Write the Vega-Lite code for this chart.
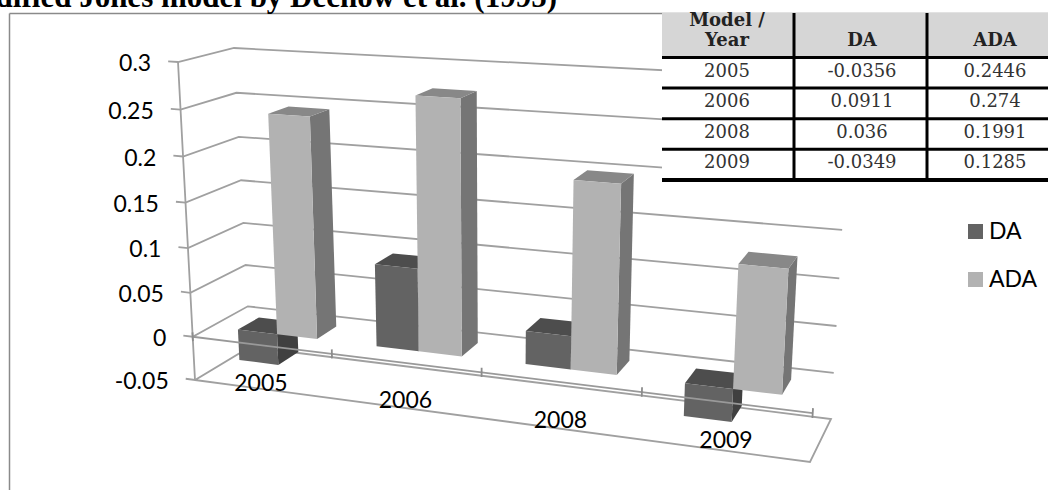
{
  "$schema": "https://vega.github.io/schema/vega-lite/v6.json",
  "width": 1039,
  "height": 477,
  "autosize": "none",
  "padding": {"left": 9, "top": 13, "right": 0, "bottom": 0},
  "background": "white",
  "config": {"view": {"stroke": null}},
  "datasets": {
    "bars": [
      {"year": "2005", "series": "DA", "value": -0.0356},
      {"year": "2005", "series": "ADA", "value": 0.2446},
      {"year": "2006", "series": "DA", "value": 0.0911},
      {"year": "2006", "series": "ADA", "value": 0.274},
      {"year": "2008", "series": "DA", "value": 0.036},
      {"year": "2008", "series": "ADA", "value": 0.1991},
      {"year": "2009", "series": "DA", "value": -0.0349},
      {"year": "2009", "series": "ADA", "value": 0.1285}
    ],
    "ticks": [
      {"tick": -0.05}, {"tick": 0}, {"tick": 0.05}, {"tick": 0.1},
      {"tick": 0.15}, {"tick": 0.2}, {"tick": 0.25}, {"tick": 0.3}
    ],
    "years": [
      {"year": "2005", "cat": 0},
      {"year": "2006", "cat": 1},
      {"year": "2008", "cat": 2},
      {"year": "2009", "cat": 3}
    ],
    "heading": [{"label": "Modified Jones model by Dechow et al. (1995)"}],
    "tableHead": [
      {"label": "Model /", "col": 0, "line": 0},
      {"label": "Year", "col": 0, "line": 1},
      {"label": "DA", "col": 1, "line": 1},
      {"label": "ADA", "col": 2, "line": 1}
    ],
    "tableBands": [{"band": "head"}, {"band": "body"}],
    "tableRows": [{"edge": 0}, {"edge": 1}, {"edge": 2}, {"edge": 3}, {"edge": 4}],
    "tableCols": [{"col": 1}, {"col": 2}]
  },
  "encoding": {
    "x": {
      "field": "sx",
      "type": "quantitative",
      "scale": {"domain": [9, 1048], "nice": false, "zero": false},
      "axis": {"orient": "top", "title": null, "labels": false, "ticks": false, "grid": false, "domainColor": "#8a8a8a", "domainWidth": 1.5}
    },
    "y": {
      "field": "sy",
      "type": "quantitative",
      "scale": {"domain": [13, 490], "nice": false, "zero": false, "reverse": true},
      "axis": {"orient": "left", "title": null, "labels": false, "ticks": false, "grid": false, "domainColor": "#8a8a8a", "domainWidth": 1.5}
    }
  },
  "layer": [
    {
      "description": "Heading above the chart frame",
      "data": {"name": "heading"},
      "transform": [
        {"calculate": "557", "as": "sx"},
        {"calculate": "7", "as": "sy"}
      ],
      "mark": {"type": "text", "align": "right", "baseline": "alphabetic", "font": "Liberation Serif", "fontWeight": "bold", "fontSize": 31, "color": "black"},
      "encoding": {"text": {"field": "label"}}
    },
    {
      "description": "Walls and floor of the 3D box: gridlines, value axis and its labels",
      "data": {"name": "ticks"},
      "transform": [
        {"calculate": "[0,1,2,3,4,5]", "as": "seq"},
        {"flatten": ["seq"]},
        {"calculate": "datum.seq==0 ? -0.07 : (datum.seq==3 || datum.seq==4 ? 4 : 0)", "as": "u"},
        {"calculate": "datum.seq==2 || datum.seq==3 ? 1 : 0", "as": "d"},
        {"calculate": "datum.tick", "as": "v"},
        {"calculate": "''+datum.tick", "as": "label"},
        {"calculate": "datum.u/4-0.136*(datum.u/4)*(1-datum.u/4)", "as": "pu"},
        {"calculate": "(datum.v+0.05)/0.35", "as": "nv"},
        {"calculate": "datum.nv-0.056*datum.nv*(1-datum.nv)", "as": "pv"},
        {"calculate": "(1-datum.pu)*(195+55*datum.d)+datum.pu*(810+21*datum.d)", "as": "xb"},
        {"calculate": "(1-datum.pu)*(178+56*datum.d)+datum.pu*(830+21*datum.d)", "as": "xt"},
        {"calculate": "(1-datum.pu)*(380-33*datum.d)+datum.pu*(462-43*datum.d)", "as": "yb"},
        {"calculate": "(1-datum.pu)*(62-14*datum.d)+datum.pu*(102-22*datum.d)", "as": "yt"},
        {"calculate": "datum.xb+datum.pv*(datum.xt-datum.xb)", "as": "sx"},
        {"calculate": "datum.yb+datum.pv*(datum.yt-datum.yb)", "as": "sy"}
      ],
      "layer": [
        {
          "transform": [{"filter": "datum.seq<=3 || datum.tick==-0.05"}],
          "mark": {"type": "line", "color": "#a0a0a0", "strokeWidth": 1.8, "clip": false},
          "encoding": {
            "detail": {"field": "tick"},
            "order": {"field": "seq"}
          }
        },
        {
          "transform": [{"filter": "datum.seq==1"}],
          "mark": {"type": "line", "color": "#a0a0a0", "strokeWidth": 1.8},
          "encoding": {"order": {"field": "tick"}}
        },
        {
          "transform": [{"filter": "datum.seq==0"}],
          "mark": {"type": "text", "align": "right", "baseline": "middle", "dx": -17, "dy": 3, "font": "Lato", "fontSize": 23, "color": "black"},
          "encoding": {"text": {"field": "label"}}
        }
      ]
    },
    {
      "description": "Bars as three shaded faces each, drawn back to front",
      "data": {"name": "bars"},
      "transform": [
        {"calculate": "indexof(['2005','2006','2008','2009'],datum.year)+(datum.series=='DA'?0.2:0.49)", "as": "u0"},
        {"calculate": "datum.u0+0.29", "as": "u1"},
        {"calculate": "min(0,datum.value)", "as": "vlo"},
        {"calculate": "max(0,datum.value)", "as": "vhi"},
        {"calculate": "['side','top','front']", "as": "face"},
        {"flatten": ["face"]},
        {"calculate": "[0,1,2,3]", "as": "corner"},
        {"flatten": ["corner"]},
        {"calculate": "datum.series+'-'+datum.face", "as": "shade"},
        {"calculate": "datum.face=='side' || datum.corner==1 || datum.corner==2 ? datum.u1 : datum.u0", "as": "u"},
        {"calculate": "datum.face=='front' ? 0.34 : datum.face=='side' ? (datum.corner==1||datum.corner==2 ? 0.73 : 0.34) : (datum.corner>=2 ? 0.73 : 0.34)", "as": "d"},
        {"calculate": "datum.face=='top' || datum.corner>=2 ? datum.vhi : datum.vlo", "as": "v"},
        {"calculate": "datum.u/4-0.136*(datum.u/4)*(1-datum.u/4)", "as": "pu"},
        {"calculate": "(datum.v+0.05)/0.35", "as": "nv"},
        {"calculate": "datum.nv-0.056*datum.nv*(1-datum.nv)", "as": "pv"},
        {"calculate": "(1-datum.pu)*(195+55*datum.d)+datum.pu*(810+21*datum.d)", "as": "xb"},
        {"calculate": "(1-datum.pu)*(178+56*datum.d)+datum.pu*(830+21*datum.d)", "as": "xt"},
        {"calculate": "(1-datum.pu)*(380-33*datum.d)+datum.pu*(462-43*datum.d)", "as": "yb"},
        {"calculate": "(1-datum.pu)*(62-14*datum.d)+datum.pu*(102-22*datum.d)", "as": "yt"},
        {"calculate": "datum.xb+datum.pv*(datum.xt-datum.xb)", "as": "sx"},
        {"calculate": "datum.yb+datum.pv*(datum.yt-datum.yb)", "as": "sy"}
      ],
      "mark": {"type": "line", "filled": true, "strokeWidth": 0},
      "encoding": {
        "fill": {
          "field": "shade",
          "type": "nominal",
          "legend": null,
          "scale": {
            "domain": ["DA-front", "DA-side", "DA-top", "ADA-front", "ADA-side", "ADA-top", "head", "body"],
            "range": ["#636363", "#404040", "#4d4d4d", "#b2b2b2", "#757575", "#888888", "#d6d6d6", "#ffffff"]
          }
        },
        "detail": {"field": "year"},
        "order": {"field": "corner"}
      }
    },
    {
      "description": "Category axis on the zero plane with ticks and year labels",
      "data": {"name": "years"},
      "transform": [
        {"calculate": "[0,1,2,3,4,5,6]", "as": "seq"},
        {"flatten": ["seq"]},
        {"calculate": "datum.seq==4 ? datum.cat+0.5 : (datum.seq==2||datum.seq==3||datum.seq==6 ? datum.cat+1 : datum.cat)", "as": "u"},
        {"calculate": "0", "as": "d"},
        {"calculate": "datum.seq==0||datum.seq==2 ? 0.005 : (datum.seq==1||datum.seq==3 ? -0.005 : 0)", "as": "v"},
        {"calculate": "datum.u/4-0.136*(datum.u/4)*(1-datum.u/4)", "as": "pu"},
        {"calculate": "(datum.v+0.05)/0.35", "as": "nv"},
        {"calculate": "datum.nv-0.056*datum.nv*(1-datum.nv)", "as": "pv"},
        {"calculate": "(1-datum.pu)*(195+55*datum.d)+datum.pu*(810+21*datum.d)", "as": "xb"},
        {"calculate": "(1-datum.pu)*(178+56*datum.d)+datum.pu*(830+21*datum.d)", "as": "xt"},
        {"calculate": "(1-datum.pu)*(380-33*datum.d)+datum.pu*(462-43*datum.d)", "as": "yb"},
        {"calculate": "(1-datum.pu)*(62-14*datum.d)+datum.pu*(102-22*datum.d)", "as": "yt"},
        {"calculate": "datum.xb+datum.pv*(datum.xt-datum.xb)", "as": "sx"},
        {"calculate": "datum.yb+datum.pv*(datum.yt-datum.yb)", "as": "sy"},
        {"calculate": "datum.seq<2 ? datum.cat : datum.cat+1", "as": "tickAt"}
      ],
      "layer": [
        {
          "transform": [{"filter": "datum.seq>=5"}],
          "mark": {"type": "line", "color": "#999999", "strokeWidth": 1.8},
          "encoding": {"detail": {"field": "year"}, "order": {"field": "seq"}}
        },
        {
          "transform": [{"filter": "datum.seq<4"}],
          "mark": {"type": "line", "color": "#8c8c8c", "strokeWidth": 1.8},
          "encoding": {"detail": {"field": "tickAt"}, "order": {"field": "seq"}}
        },
        {
          "transform": [{"filter": "datum.seq==4"}],
          "mark": {"type": "text", "align": "center", "baseline": "middle", "dy": 38.5, "font": "Lato", "fontSize": 23, "color": "black"},
          "encoding": {"text": {"field": "year"}}
        }
      ]
    },
    {
      "description": "Series legend; the points themselves stay invisible",
      "data": {"name": "bars"},
      "transform": [
        {"calculate": "500", "as": "sx"},
        {"calculate": "250", "as": "sy"}
      ],
      "mark": {"type": "square", "size": 0, "filled": true},
      "encoding": {
        "color": {
          "field": "series",
          "type": "nominal",
          "scale": {"domain": ["DA", "ADA"], "range": ["#636363", "#b2b2b2"]},
          "legend": {
            "title": null,
            "orient": "none",
            "legendX": 955,
            "legendY": 207,
            "symbolType": "square",
            "symbolSize": 225,
            "symbolStrokeWidth": 0,
            "symbolOpacity": 1,
            "labelFont": "Lato",
            "labelFontSize": 23,
            "labelColor": "black",
            "rowPadding": 24,
            "labelOffset": 2
          }
        }
      }
    },
    {
      "description": "Table background",
      "data": {"name": "tableBands"},
      "transform": [
        {"calculate": "662", "as": "sx"},
        {"calculate": "1048", "as": "sx2"},
        {"calculate": "datum.band=='head' ? 13 : 57", "as": "sy"},
        {"calculate": "datum.band=='head' ? 57 : 180", "as": "sy2"}
      ],
      "mark": {"type": "rect"},
      "encoding": {
        "x2": {"field": "sx2"},
        "y2": {"field": "sy2"},
        "fill": {"field": "band", "type": "nominal", "legend": null}
      }
    },
    {
      "description": "Table row lines",
      "data": {"name": "tableRows"},
      "transform": [
        {"calculate": "662", "as": "sx"},
        {"calculate": "1048", "as": "sx2"},
        {"calculate": "57.5+30.6*datum.edge", "as": "sy"}
      ],
      "mark": {"type": "rule", "color": "black"},
      "encoding": {
        "x2": {"field": "sx2"},
        "strokeWidth": {"condition": {"test": "datum.edge==4", "value": 4}, "value": 3}
      }
    },
    {
      "description": "Table column lines",
      "data": {"name": "tableCols"},
      "transform": [
        {"calculate": "794+133*(datum.col-1)", "as": "sx"},
        {"calculate": "13", "as": "sy"},
        {"calculate": "180", "as": "sy2"}
      ],
      "mark": {"type": "rule", "color": "black", "strokeWidth": 3},
      "encoding": {"y2": {"field": "sy2"}}
    },
    {
      "description": "Table header",
      "data": {"name": "tableHead"},
      "transform": [
        {"calculate": "[727,862,995][datum.col]", "as": "sx"},
        {"calculate": "21+20*datum.line", "as": "sy"}
      ],
      "mark": {"type": "text", "font": "DejaVu Serif", "fontWeight": "bold", "fontSize": 18, "baseline": "middle", "color": "#222222"},
      "encoding": {"text": {"field": "label"}}
    },
    {
      "description": "Table year column",
      "data": {"name": "years"},
      "transform": [
        {"calculate": "727", "as": "sx"},
        {"calculate": "72+30.4*datum.cat", "as": "sy"}
      ],
      "mark": {"type": "text", "font": "DejaVu Serif", "fontSize": 18, "baseline": "middle", "color": "#333333"},
      "encoding": {"text": {"field": "year"}}
    },
    {
      "description": "Table values, from the same rows as the bars",
      "data": {"name": "bars"},
      "transform": [
        {"calculate": "datum.series=='DA' ? 862 : 995", "as": "sx"},
        {"calculate": "72+30.4*indexof(['2005','2006','2008','2009'],datum.year)", "as": "sy"},
        {"calculate": "''+datum.value", "as": "label"}
      ],
      "mark": {"type": "text", "font": "DejaVu Serif", "fontSize": 18, "baseline": "middle", "color": "#333333"},
      "encoding": {"text": {"field": "label"}}
    }
  ]
}
